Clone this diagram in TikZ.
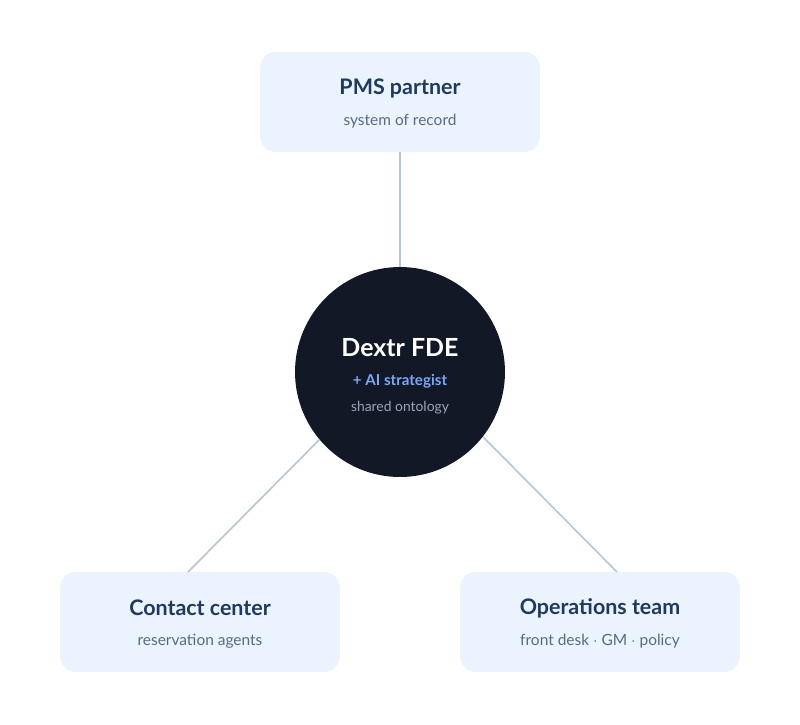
\documentclass[tikz,border=0pt]{standalone}
\usepackage{fontspec}
\setmainfont{Lato}
\usetikzlibrary{positioning}
\definecolor{boxfill}{HTML}{EAF3FE}
\definecolor{navy}{HTML}{1E3A5F}
\definecolor{subgray}{HTML}{5A6B80}
\definecolor{hubfill}{HTML}{121826}
\definecolor{accent}{HTML}{7BA7F7}
\definecolor{hubgray}{HTML}{9AA5B8}
\definecolor{wire}{HTML}{B3C6D9}
\tikzset{
  party/.style={fill=boxfill, rounded corners=9pt, minimum width=5.6cm, minimum height=2cm},
  title/.style={text=navy, font=\fontsize{12.2}{14}\selectfont\bfseries},
  sub/.style={text=subgray, font=\fontsize{8.8}{10}\selectfont},
  link/.style={draw=wire, line width=0.9pt}
}
\begin{document}
\begin{tikzpicture}[x=0.02cm,y=-0.02cm]
\useasboundingbox (0,0) rectangle (800,724);
% partners
\node[party] (pms) at (400,102) {};
\node[title] at (400,88) {PMS partner};
\node[sub] at (400,121) {system of record};
\node[party] (contact) at (200,622) {};
\node[title] at (200,608) {Contact center};
\node[sub] at (200,641) {reservation agents};
\node[party] (ops) at (600,622) {};
\node[title] at (600,608) {Operations team};
\node[sub] at (600,641) {front desk $\cdot$ GM $\cdot$ policy};
% hub
\node[circle, fill=hubfill, minimum size=4.2cm, inner sep=0pt] (hub) at (400,372) {};
\node[text=white, font=\fontsize{14.2}{16}\selectfont\bfseries] at (400,348) {Dextr FDE};
\node[text=accent, font=\fontsize{8.6}{10}\selectfont\bfseries] at (400,381) {+ AI strategist};
\node[text=hubgray, font=\fontsize{7.9}{9}\selectfont] at (400,408) {shared ontology};
% links
\coordinate (cl) at (188,572);
\coordinate (cr) at (617,572);
\draw[link] (pms.south) -- (hub.north);
\draw[link] (cl) -- (hub.220);
\draw[link] (cr) -- (hub.-38);
\end{tikzpicture}
\end{document}
